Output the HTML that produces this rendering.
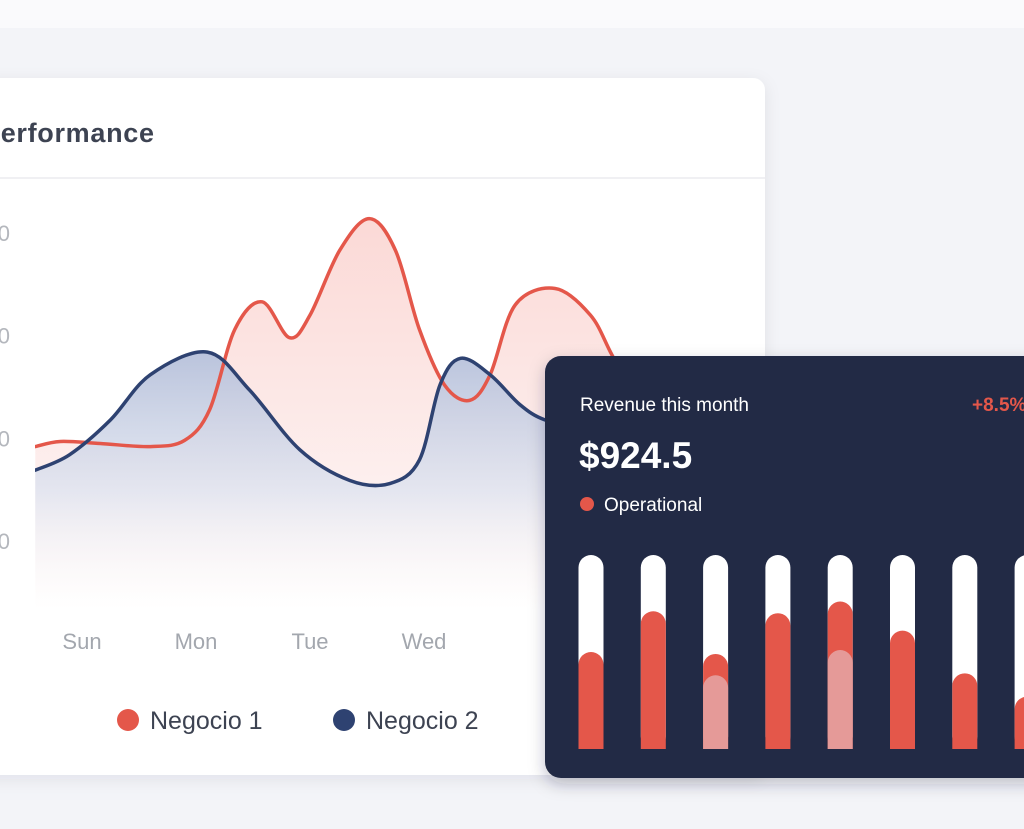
<!DOCTYPE html>
<html><head><meta charset="utf-8">
<style>
html,body{margin:0;padding:0;width:1024px;height:829px;overflow:hidden;background:#f3f4f8;font-family:"Liberation Sans",sans-serif;}
</style></head>
<body>
<svg width="1024" height="829" viewBox="0 0 1024 829" xmlns="http://www.w3.org/2000/svg">
<defs>
<linearGradient id="gBlue" x1="0" y1="0" x2="0" y2="1">
<stop offset="0" stop-color="#b6c0da" stop-opacity="0.95"/>
<stop offset="0.55" stop-color="#dfe4f0" stop-opacity="0.8"/>
<stop offset="1" stop-color="#ffffff" stop-opacity="0"/>
</linearGradient>
<linearGradient id="gRed" x1="0" y1="0" x2="0" y2="1">
<stop offset="0" stop-color="#fbd9d6"/>
<stop offset="0.7" stop-color="#fdf0ef"/>
<stop offset="1" stop-color="#ffffff"/>
</linearGradient>
<filter id="sh" x="-10%" y="-10%" width="120%" height="120%"><feDropShadow dx="0" dy="4" stdDeviation="8" flood-color="#1e2540" flood-opacity="0.08"/></filter>
<filter id="sh2" x="-10%" y="-10%" width="120%" height="120%"><feDropShadow dx="0" dy="6" stdDeviation="8" flood-color="#1e2540" flood-opacity="0.25"/></filter>
<clipPath id="plotClip"><rect x="35" y="180" width="700" height="430"/></clipPath>
</defs>
<rect x="0" y="0" width="1024" height="28" fill="#fafafc"/>
<g>
<rect x="-20" y="78" width="785" height="697" rx="12" fill="#ffffff" filter="url(#sh)"/>
<text x="154" y="142" text-anchor="end" font-size="27" font-weight="600" fill="#3d4352" textLength="172">Performance</text>
<line x1="0" y1="178" x2="765" y2="178" stroke="#ececef" stroke-width="1.5"/>
<g id="yAxis"></g>
<g id="plot" clip-path="url(#plotClip)"></g>
<g id="xAxis"></g>
<g>
<g><circle cx="128" cy="720" r="11" fill="#e4574a"/><text x="150" y="729" font-size="25" fill="#3d4352">Negocio 1</text></g>
<g><circle cx="344" cy="720" r="11" fill="#2e4271"/><text x="366" y="729" font-size="25" fill="#3d4352">Negocio 2</text></g>
</g>
</g>
<g>
<rect x="545" y="356" width="520" height="422" rx="16" fill="#222b45" filter="url(#sh2)"/>
<text x="580" y="411" font-size="19" fill="#ffffff">Revenue this month</text>
<text x="972" y="411" font-size="19" fill="#e4574a" font-weight="600">+8.5%</text>
<text x="579" y="468" font-size="37" font-weight="700" fill="#ffffff">$924.5</text>
<circle cx="587" cy="504" r="7" fill="#e4574a"/>
<text x="604" y="511" font-size="19" fill="#ffffff">Operational</text>
<g id="bars"></g>
</g>
</svg>
<script>
// Line chart data
var dayLabels = ["Sun","Mon","Tue","Wed"];
var yTicks = [100,200,300,400];
var redDays = [-0.41,-0.19,0.16,0.6,0.9,1.12,1.34,1.58,1.82,2.0,2.26,2.52,2.75,2.96,3.18,3.40,3.58,3.80,4.15,4.46,4.65,4.9];
var redVals = [192,197,195,192,198,228,306,333,298,320,383,414,383,306,252,237,262,330,346,320,281,230];
var blueDays = [-0.41,-0.11,0.25,0.6,1.1,1.47,1.91,2.35,2.7,2.96,3.14,3.32,3.58,3.84,4.06,4.4];
var blueVals = [169,184,218,262,284,247,189,159,156,179,252,278,262,233,218,210];
// Bar card data (fraction of track)
var barVals = [0.50,0.71,0.49,0.70,0.76,0.61,0.39,0.27];
var barSecondary = [0,0,0.38,0,0.51,0,0,0];

var NS="http://www.w3.org/2000/svg";
function X(d){return 82+d*114;}
function Y(v){return 643.7-v*1.0267;}
function mk(tag,attrs,parent){var e=document.createElementNS(NS,tag);for(var k in attrs)e.setAttribute(k,attrs[k]);parent.appendChild(e);return e;}
function spline(px,py){
  var d="M"+px[0]+","+py[0];
  for(var i=0;i<px.length-1;i++){
    var x0=px[Math.max(i-1,0)],y0=py[Math.max(i-1,0)],x1=px[i],y1=py[i],x2=px[i+1],y2=py[i+1],x3=px[Math.min(i+2,px.length-1)],y3=py[Math.min(i+2,px.length-1)];
    d+=" C"+(x1+(x2-x0)/6)+","+(y1+(y2-y0)/6)+" "+(x2-(x3-x1)/6)+","+(y2-(y3-y1)/6)+" "+x2+","+y2;
  }
  return d;
}
var yAxis=document.getElementById('yAxis');
yTicks.forEach(function(t){
  var e=mk('text',{x:14,y:Y(t)+8,'text-anchor':'end','font-size':22,fill:'#b4b7bd'},yAxis);
  e.textContent=t+"    ".slice(0,0);
  e.setAttribute('x', 14);
  e.setAttribute('transform','translate(0,0)');
  
  
});
// hide leading digits beyond left edge by shifting: only last digit visible
Array.prototype.forEach.call(yAxis.childNodes,function(e){e.setAttribute('dx','0');e.setAttribute('letter-spacing','4');});
var xAxis=document.getElementById('xAxis');
dayLabels.forEach(function(l,i){
  var e=mk('text',{x:X(i),y:649,'text-anchor':'middle','font-size':22,fill:'#a3a7ae'},xAxis);
  e.textContent=l;
  
  
});
var plot=document.getElementById('plot');
var rx=redDays.map(X), ry=redVals.map(Y), bx=blueDays.map(X), by=blueVals.map(Y);
var rp=spline(rx,ry), bp=spline(bx,by);
var rf=mk('path',{d:rp+" L"+rx[rx.length-1]+",610 L"+rx[0]+",610 Z",fill:'url(#gRed)'},plot);


var bf=mk('path',{d:bp+" L"+bx[bx.length-1]+",610 L"+bx[0]+",610 Z",fill:'url(#gBlue)'},plot);


var rl=mk('path',{d:rp,fill:'none',stroke:'#e4574a','stroke-width':3.5,'stroke-linecap':'round'},plot);


var bl=mk('path',{d:bp,fill:'none',stroke:'#2e4271','stroke-width':3.5,'stroke-linecap':'round'},plot);



var bars=document.getElementById('bars');
var trackTop=555,trackBot=749,trackH=trackBot-trackTop,bw=25;
barVals.forEach(function(v,i){
  var cx=591+i*62.3;
  var g=mk('g',{},bars);
  
  
  mk('rect',{x:cx-bw/2,y:trackTop,width:bw,height:trackH,rx:bw/2,fill:'#ffffff'},g);
  var h=v*trackH;
  mk('path',{d:"M"+(cx-bw/2)+","+trackBot+" V"+(trackBot-h+bw/2)+" A"+(bw/2)+","+(bw/2)+" 0 0 1 "+(cx+bw/2)+","+(trackBot-h+bw/2)+" V"+trackBot+" Z",fill:'#e4574a'},g);
  var s=barSecondary[i];
  if(s>0){var hs=s*trackH;
    mk('path',{d:"M"+(cx-bw/2)+","+trackBot+" V"+(trackBot-hs+bw/2)+" A"+(bw/2)+","+(bw/2)+" 0 0 1 "+(cx+bw/2)+","+(trackBot-hs+bw/2)+" V"+trackBot+" Z",fill:'#e59a98'},g);}
});
</script>
</body></html>
